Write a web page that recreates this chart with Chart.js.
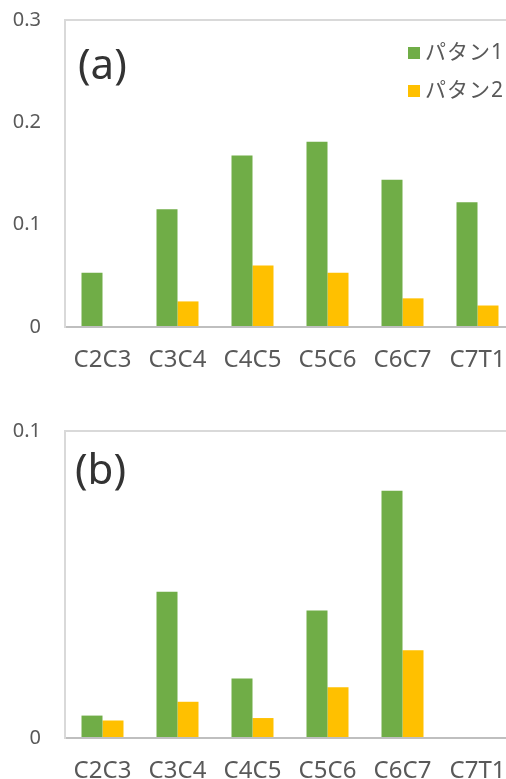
<!DOCTYPE html>
<html>
<head>
<meta charset="utf-8">
<script src="https://cdn.jsdelivr.net/npm/chart.js@4"></script>
<style>
  html, body { margin: 0; padding: 0; background: #fff; overflow: hidden; }
  .panel { position: absolute; left: 0; width: 506px; overflow: hidden; }
  #panelA { top: 0; height: 395px; }
  #panelB { top: 400px; height: 379px; }
</style>
</head>
<body>
<div class="panel" id="panelA"><canvas id="chartA" width="520" height="395"></canvas></div>
<div class="panel" id="panelB"><canvas id="chartB" width="520" height="379"></canvas></div>
<script>
// Two stacked bar panels, same categories, two patterns each.
const categories = ['C2C3', 'C3C4', 'C4C5', 'C5C6', 'C6C7', 'C7T1'];
const seriesNames = ['パタン1', 'パタン2'];
const seriesColors = ['#70ad47', '#ffc000'];

const panelA1 = [0.053, 0.115, 0.1675, 0.181, 0.144, 0.122];
const panelA2 = [0, 0.025, 0.060, 0.053, 0.028, 0.021];
const panelB1 = [0.0073, 0.0476, 0.0194, 0.0415, 0.0805, 0];
const panelB2 = [0.0057, 0.0118, 0.0065, 0.0165, 0.0286, 0];

const yTicksA = ['0', '0.1', '0.2', '0.3'];
const yTicksB = ['0', '0.1'];

const TEXT = '#595959';
const FONT = '"Noto Sans", "Noto Sans CJK JP", sans-serif';

// panel letter + (optionally) the legend drawn inside the plot area
const overlayPlugin = {
  id: 'overlay',
  afterDraw(chart, args, opts) {
    const ctx = chart.ctx;
    ctx.save();
    ctx.fillStyle = '#333';
    ctx.font = `42px ${FONT}`;
    ctx.textBaseline = 'alphabetic';
    ctx.fillText(opts.label, opts.labelX, opts.labelY);
    if (opts.legend) {
      ctx.font = `21px ${FONT}`;
      ctx.textBaseline = 'middle';
      ctx.letterSpacing = '1px';
      chart.data.datasets.forEach((ds, i) => {
        const top = 47 + i * 38;
        ctx.fillStyle = ds.backgroundColor;
        ctx.fillRect(408, top, 12, 12);
        ctx.fillStyle = TEXT;
        ctx.fillText(ds.label, 425, top + 6);
      });
    }
    ctx.restore();
  },
};

// fixed axis sizes so the plot box lands where the reference has it
function fixScale(size) {
  return (s) => {
    if (s.isHorizontal()) s.height = size; else s.width = size;
    s.paddingTop = 0;
    s.paddingBottom = 0;
    s.paddingLeft = 0;
    s.paddingRight = 0;
  };
}

function makeChart(id, d1, d2, yMax, tickLabels, cfg) {
  const datasets = [d1, d2].map((data, i) => ({
    label: seriesNames[i],
    data,
    backgroundColor: seriesColors[i],
    borderWidth: 0,
    categoryPercentage: 0.56,
    barPercentage: 1.0,
  }));
  return new Chart(document.getElementById(id).getContext('2d'), {
    type: 'bar',
    data: { labels: categories, datasets },
    plugins: [overlayPlugin],
    options: {
      responsive: false,
      animation: false,
      layout: { padding: { top: cfg.padTop, right: 5, left: 0, bottom: 0 } },
      scales: {
        x: {
          grid: { display: false },
          border: { color: '#bfbfbf', width: 2 },
          ticks: { color: TEXT, font: { family: FONT, size: 24 }, padding: 11, autoSkip: false, maxRotation: 0 },
          afterFit: fixScale(cfg.xHeight),
        },
        y: {
          min: 0,
          max: yMax,
          ticks: {
            stepSize: 0.1,
            color: TEXT,
            font: { family: FONT, size: 20 },
            padding: 24,
            callback: (v, i) => tickLabels[i],
          },
          grid: {
            drawTicks: false,
            lineWidth: 2,
            color: (c) => (c.index === tickLabels.length - 1 ? '#d9d9d9' : 'rgba(0,0,0,0)'),
          },
          border: { color: '#d9d9d9', width: 2 },
          afterFit: fixScale(65),
        },
      },
      plugins: {
        legend: { display: false },
        tooltip: { enabled: false },
        overlay: cfg.overlay,
      },
    },
  });
}

makeChart('chartA', panelA1, panelA2, 0.3, yTicksA, {
  padTop: 20,
  xHeight: 68,
  overlay: { label: '(a)', labelX: 78, labelY: 79, legend: true },
});

makeChart('chartB', panelB1, panelB2, 0.1, yTicksB, {
  padTop: 31,
  xHeight: 41,
  overlay: { label: '(b)', labelX: 75, labelY: 84, legend: false },
});
</script>
</body>
</html>
